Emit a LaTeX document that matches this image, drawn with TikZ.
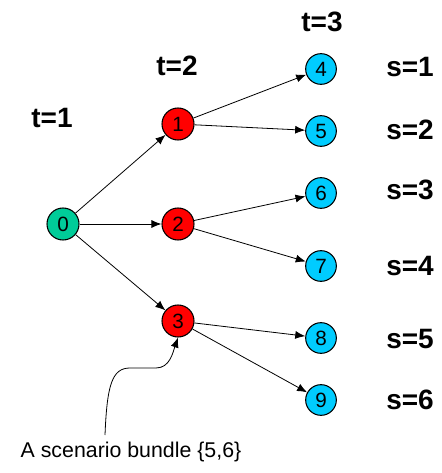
\documentclass[tikz,border=0pt]{standalone}
\usepackage{fontspec}
\setmainfont{Liberation Sans}
\definecolor{stgreen}{RGB}{0,204,153}
\definecolor{stred}{RGB}{255,0,0}
\definecolor{stcyan}{RGB}{0,204,255}
\usetikzlibrary{arrows.meta,positioning}

\begin{document}
\begin{tikzpicture}[x=0.75pt,y=-0.75pt,
    stnode/.style={circle,draw,line width=0.8pt,minimum size=24pt,inner sep=0pt,font=\fontsize{15.5}{15.5}\selectfont},
    stlabel/.style={font=\fontsize{21}{21}\selectfont\bfseries},
    arc/.style={-{Latex[length=7.5pt,width=6pt]},line width=0.6pt}]
  \useasboundingbox (0,0) rectangle (441,473);
  % stage labels
  \node[stlabel] (t1) at (52,118) {t=1};
  \node[stlabel] (t2) at (177,66) {t=2};
  \node[stlabel] (t3) at (322,22) {t=3};
  % tree nodes
  \node[stnode,fill=stgreen] (n0) at (63,224) {0};
  \node[stnode,fill=stred] (n1) at (178,124) {1};
  \node[stnode,fill=stred] (n2) at (178,224) {2};
  \node[stnode,fill=stred] (n3) at (178,321) {3};
  \foreach \i/\y in {4/69,5/131,6/193,7/266,8/338,9/400}
    \node[stnode,fill=stcyan,minimum size=23pt] (n\i) at (321,\y) {\i};
  % scenario labels
  \foreach \s/\y in {1/67,2/130,3/190,4/266,5/339,6/400}
    \node[stlabel] (s\s) at (410,\y) {s=\s};
  % arcs
  \foreach \a/\b in {0/1,0/2,0/3,1/4,1/5,2/6,2/7,3/8,3/9}
    \draw[arc] (n\a) -- (n\b);
  % bundle note
  \node[font=\fontsize{16}{16}\selectfont] (bundle) at (131,452) {A scenario bundle \{5,6\}};
  \coordinate (cstart) at (105,435);
  \draw[arc] (cstart) .. controls (107,385) and (112,368) .. (130,368)
    -- (156,368) .. controls (170,368) and (173,352) .. (n3.south);
\end{tikzpicture}
\end{document}
